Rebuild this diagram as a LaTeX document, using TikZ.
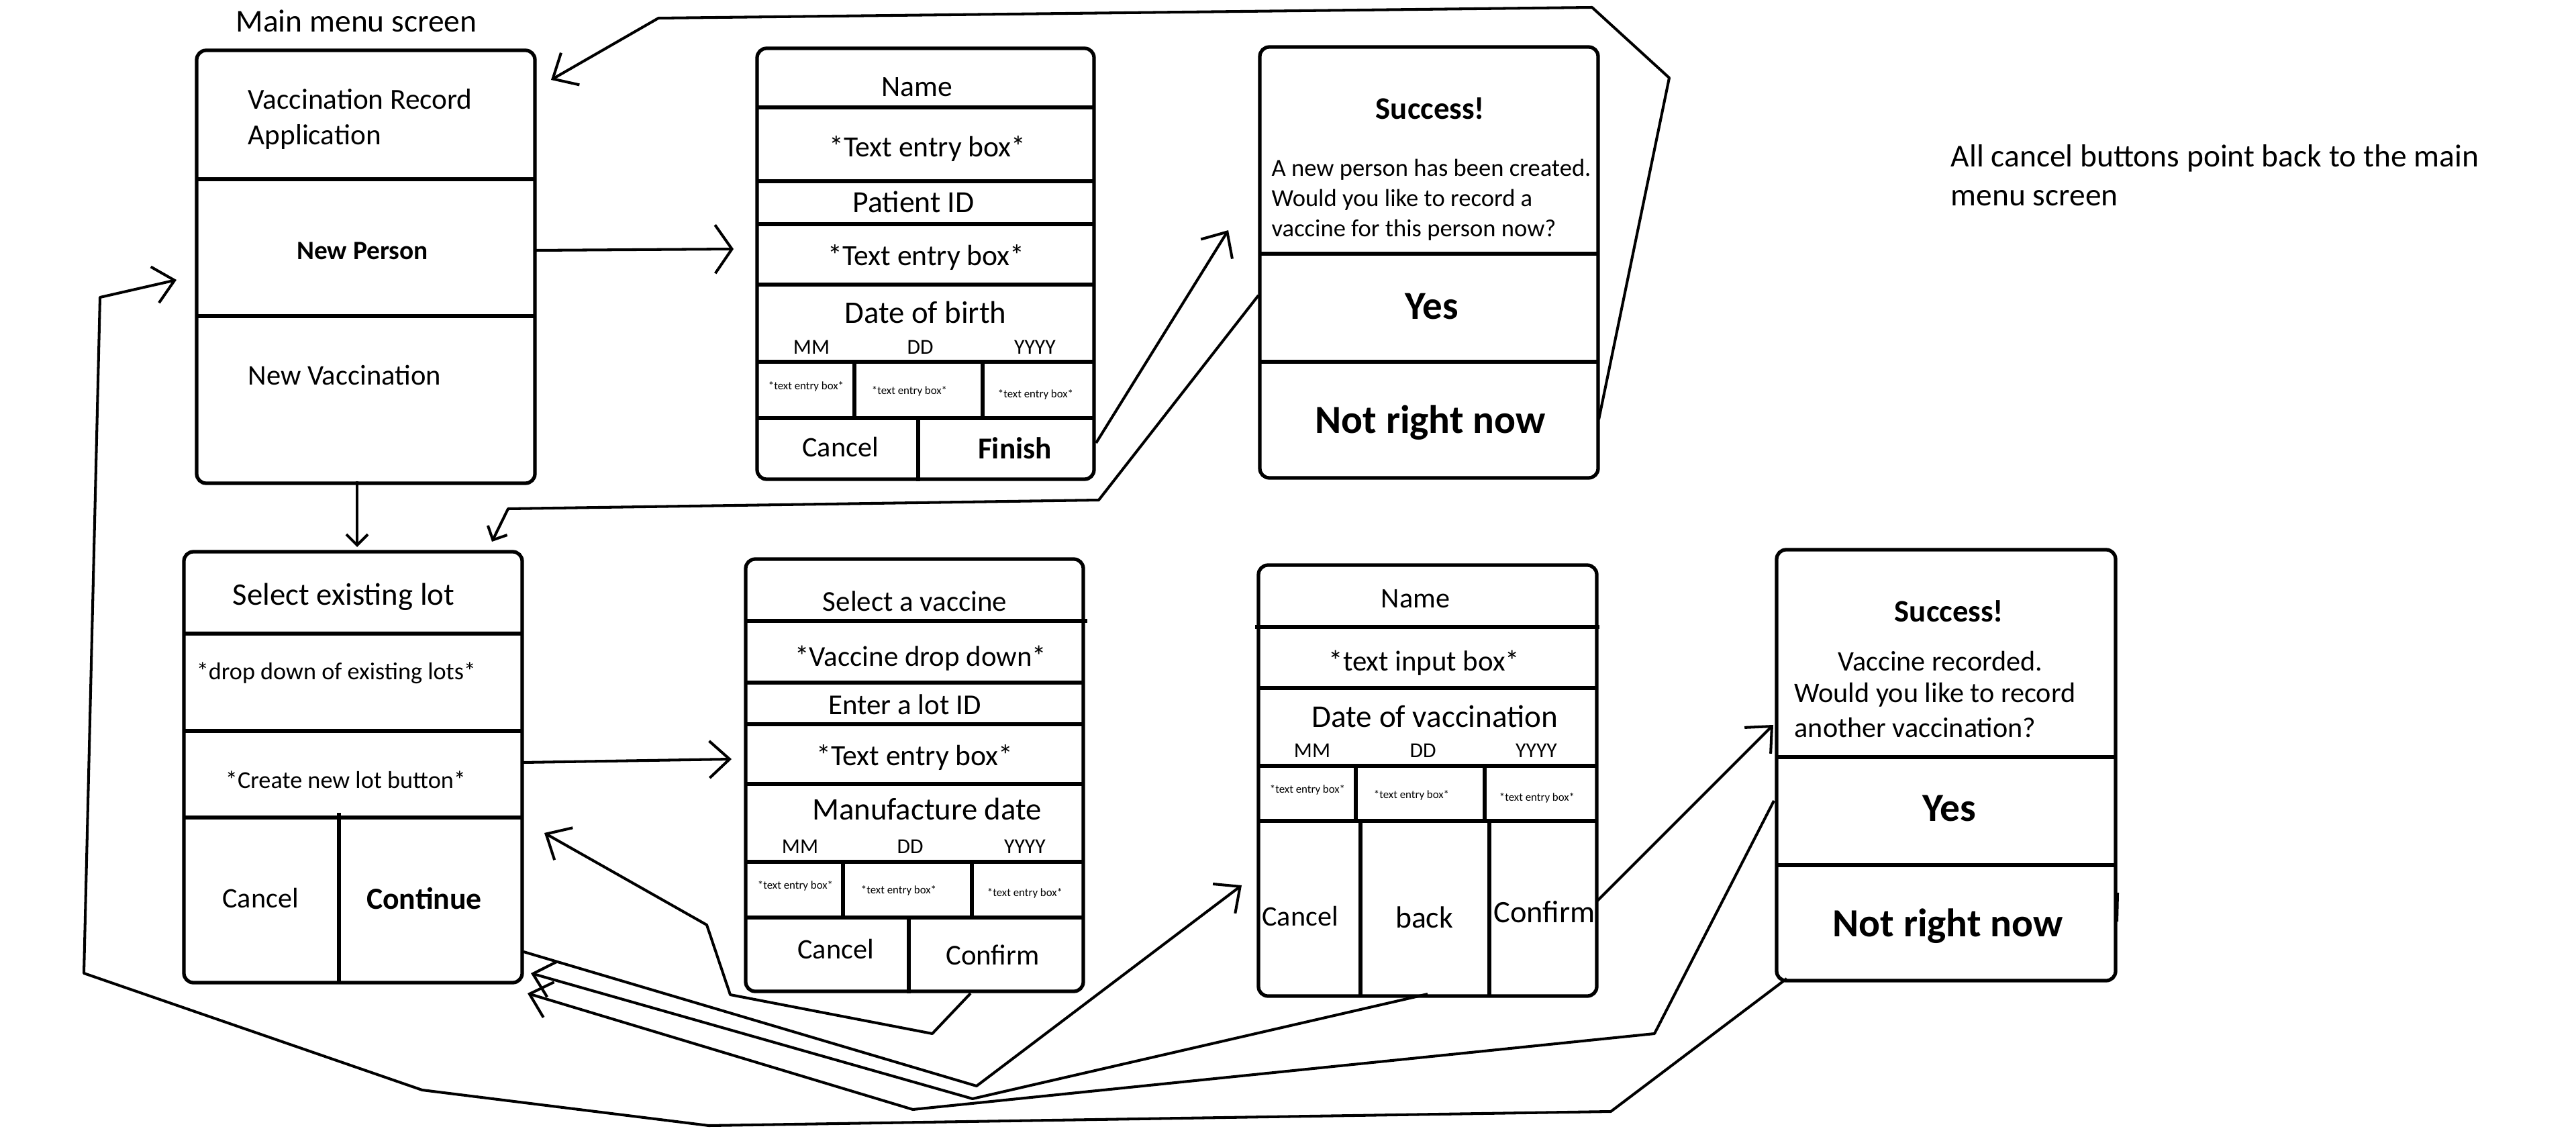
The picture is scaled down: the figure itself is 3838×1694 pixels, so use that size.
\documentclass[tikz,border=0pt]{standalone}
\usepackage{fontspec}
\setmainfont{Carlito}
\usetikzlibrary{arrows.meta,fit}
\newcommand\fsz[1]{\fontsize{#1}{#1}\selectfont}
\begin{document}
\begin{tikzpicture}[x=0.01cm,y=-0.01cm,
  screen/.style={draw, line width=1.5pt, rounded corners=4pt, inner sep=0pt},
  div/.style={line width=1.5pt},
  link/.style={line width=1.15pt, line join=round},
  conn/.style={link, -{Straight Barb[length=0.3cm,width=0.55cm]}},
  connsmall/.style={link, -{Straight Barb[length=0.16cm,width=0.32cm]}},
  connbig/.style={link, -{Straight Barb[length=0.25cm,width=0.72cm]}},
  basetxt/.style={inner sep=0pt, anchor=mid},
  txt/.style={basetxt, yshift=-2pt},
  ltxt/.style={inner sep=0pt, anchor=mid west, yshift=-2pt},
  small/.style={basetxt, font=\fsz{4.8}},
  lbl/.style={basetxt, font=\fsz{9}}]
\useasboundingbox (0,0) rectangle (3838,1694);

% ---------- screens ----------
\node[screen, fit={(293,75) (797,720)}] (M) {};
\node[screen, fit={(1128,72) (1630,714)}] (N) {};
\node[screen, fit={(1877,70) (2381,712)}] (S1) {};
\node[screen, fit={(274,822) (778,1464)}] (L) {};
\node[screen, fit={(1111,833) (1614,1477)}] (V) {};
\node[screen, fit={(1875,842) (2379,1484)}] (D) {};
\node[screen, fit={(2647,819) (3152,1461)}] (S2) {};

% ---------- dividers ----------
% main menu
\draw[div] (293,267) -- (797,267);
\draw[div] (293,471) -- (797,471);
% new person
\foreach \yy in {160,270,334,424,539,623} \draw[div] (1128,\yy) -- (1630,\yy);
\draw[div] (1273,539) -- (1273,626);
\draw[div] (1464,539) -- (1464,626);
\draw[div] (1368,623) -- (1368,717);
% success 1
\draw[div] (1877,378) -- (2381,378);
\draw[div] (1877,539) -- (2381,539);
% select lot
\foreach \yy in {944,1089,1218} \draw[div] (274,\yy) -- (778,\yy);
\draw[div] (505,1211) -- (505,1464);
% vaccine
\draw[div] (1111,925) -- (1620,925);
\foreach \yy in {1017,1079,1168,1284,1367} \draw[div] (1111,\yy) -- (1614,\yy);
\draw[div] (1256,1284) -- (1256,1367);
\draw[div] (1448,1284) -- (1448,1367);
\draw[div] (1354,1367) -- (1354,1480);
% date of vaccination
\draw[div] (1870,934) -- (2383,934);
\foreach \yy in {1025,1141,1223} \draw[div] (1875,\yy) -- (2379,\yy);
\draw[div] (2020,1141) -- (2020,1223);
\draw[div] (2212,1141) -- (2212,1223);
\draw[div] (2027,1223) -- (2027,1484);
\draw[div] (2219,1223) -- (2219,1484);
% success 2
\draw[div] (2647,1128) -- (3152,1128);
\draw[div] (2647,1289) -- (3152,1289);

% ---------- texts ----------
\node[txt, font=\fsz{13.5}] (mtitle) at (531,32) {Main menu screen};
\node[ltxt, font=\fsz{12.3}] (m1a) at (369,147) {Vaccination Record};
\node[ltxt, font=\fsz{12.3}] (m1b) at (369,200) {Application};
\node[txt, font=\bfseries\fsz{11.2}] (m2) at (540,371) {New Person};
\node[ltxt, font=\fsz{12.1}] (m3) at (369,558) {New Vaccination};

\node[txt, font=\fsz{12.4}] (n1) at (1366,128) {Name};
\node[txt, font=\fsz{12.4}] (n2) at (1382,218) {*Text entry box*};
\node[txt, font=\fsz{13}] (n3) at (1361,301) {Patient ID};
\node[txt, font=\fsz{12.4}] (n4) at (1380,380) {*Text entry box*};
\node[txt, font=\fsz{13.3}] (n5) at (1379,466) {Date of birth};
\node[lbl] (n6) at (1209,519) {MM};
\node[lbl] (n7) at (1371,519) {DD};
\node[lbl] (n8) at (1542,519) {YYYY};
\node[small] (n9) at (1201,572) {*text entry box*};
\node[small] (n10) at (1355,579) {*text entry box*};
\node[small] (n11) at (1543,584) {*text entry box*};
\node[txt, font=\fsz{12}] (n12) at (1252,665) {Cancel};
\node[txt, font=\bfseries\fsz{12.9}] (n13) at (1512,668) {Finish};

\node[txt, font=\bfseries\fsz{13.3}] (s1a) at (2131,162) {Success!};
\node[ltxt, font=\fsz{10.4}] (s1b) at (1894,247) {A new person has been created.};
\node[ltxt, font=\fsz{10.4}] (s1c) at (1894,292) {Would you like to record a};
\node[ltxt, font=\fsz{10.4}] (s1d) at (1894,337) {vaccine for this person now?};
\node[txt, font=\bfseries\fsz{16.8}] (s1e) at (2133,460) {Yes};
\node[txt, font=\bfseries\fsz{16.9}] (s1f) at (2131,630) {Not right now};

\node[txt, font=\fsz{13.3}] (l1) at (512,886) {Select existing lot};
\node[txt, font=\fsz{10.3}] (l2) at (501,997) {*drop down of existing lots*};
\node[txt, font=\fsz{10.3}] (l3) at (515,1159) {*Create new lot button*};
\node[txt, font=\fsz{12}] (l4) at (388,1337) {Cancel};
\node[txt, font=\bfseries\fsz{13}] (l5) at (632,1339) {Continue};

\node[basetxt, font=\fsz{12.2}] (v1) at (1363,902) {Select a vaccine};
\node[txt, font=\fsz{12.2}] (v2) at (1372,977) {*Vaccine drop down*};
\node[basetxt, font=\fsz{12.2}] (v3) at (1348,1056) {Enter a lot ID};
\node[txt, font=\fsz{12.4}] (v4) at (1363,1125) {*Text entry box*};
\node[txt, font=\fsz{13.3}] (v5) at (1381,1206) {Manufacture date};
\node[lbl] (v6) at (1192,1263) {MM};
\node[lbl] (v7) at (1356,1263) {DD};
\node[lbl] (v8) at (1527,1263) {YYYY};
\node[small] (v9) at (1185,1316) {*text entry box*};
\node[small] (v10) at (1339,1323) {*text entry box*};
\node[small] (v11) at (1527,1327) {*text entry box*};
\node[txt, font=\fsz{12}] (v12) at (1245,1413) {Cancel};
\node[txt, font=\fsz{12.2}] (v13) at (1479,1422) {Confirm};

\node[txt, font=\fsz{12}] (d1) at (2109,890) {Name};
\node[txt, font=\fsz{12.2}] (d2) at (2122,984) {*text input box*};
\node[txt, font=\fsz{13.4}] (d3) at (2138,1068) {Date of vaccination};
\node[lbl] (d4) at (1955,1120) {MM};
\node[lbl] (d5) at (2120,1120) {DD};
\node[lbl] (d6) at (2289,1120) {YYYY};
\node[small] (d7) at (1948,1173) {*text entry box*};
\node[small] (d8) at (2103,1181) {*text entry box*};
\node[small] (d9) at (2290,1185) {*text entry box*};
\node[txt, font=\fsz{12}] (d10) at (1937,1364) {Cancel};
\node[txt, font=\fsz{13}] (d11) at (2122,1367) {back};
\node[txt, font=\fsz{13.2}] (d12) at (2301,1359) {Confirm};

\node[txt, font=\bfseries\fsz{13.3}] (s2a) at (2904,911) {Success!};
\node[txt, font=\fsz{12}] (s2b) at (2891,984) {Vaccine recorded.};
\node[ltxt, font=\fsz{12}] (s2c) at (2673,1031) {Would you like to record};
\node[ltxt, font=\fsz{12}] (s2d) at (2673,1083) {another vaccination?};
\node[txt, font=\bfseries\fsz{16.9}] (s2e) at (2904,1208) {Yes};
\node[txt, font=\bfseries\fsz{16.9}] (s2f) at (2902,1380) {Not right now};

\node[ltxt, font=\fsz{13.5}] (note1) at (2906,233) {All cancel buttons point back to the main};
\node[ltxt, font=\fsz{13.5}] (note2) at (2906,291) {menu screen};

% ---------- connector points ----------
\coordinate (mnA) at (797,373);   \coordinate (mnB) at (1093,371);
\coordinate (fsA) at (1633,660);  \coordinate (fsB) at (1830,343);
\coordinate (nrA) at (2382,625);  \coordinate (nr1) at (2487,116);
\coordinate (nr2) at (2372,11);   \coordinate (nr3) at (981,27);
\coordinate (nrB) at (821,119);
\coordinate (ysA) at (1875,440);  \coordinate (ys1) at (1637,745);
\coordinate (ys2) at (757,758);   \coordinate (ysB) at (733,807);
\coordinate (mlA) at (532,717);   \coordinate (mlB) at (532,815);
\coordinate (lvA) at (778,1136);  \coordinate (lvB) at (1090,1131);
\coordinate (vlA) at (1446,1480); \coordinate (vl1) at (1389,1540);
\coordinate (vl2) at (1088,1482); \coordinate (vl3) at (1053,1378);
\coordinate (vlB) at (811,1241);
\coordinate (ldA) at (780,1418);  \coordinate (ld1) at (1455,1618);
\coordinate (ldB) at (1850,1319);
\coordinate (blA) at (2127,1481); \coordinate (bl1) at (1449,1637);
\coordinate (blB) at (791,1450);
\coordinate (y2A) at (2643,1193); \coordinate (y21) at (2465,1540);
\coordinate (y22) at (1360,1653); \coordinate (y2B) at (786,1480);
\coordinate (csA) at (2380,1342); \coordinate (csB) at (2642,1080);
\coordinate (nmA) at (2662,1458); \coordinate (nm1) at (2400,1656);
\coordinate (nm2) at (1056,1677); \coordinate (nm3) at (629,1624);
\coordinate (nm4) at (125,1450);  \coordinate (nm5) at (149,443);
\coordinate (nmB) at (263,417);
\coordinate (stA) at (3155,1330); \coordinate (stB) at (3154,1373);

% ---------- connectors ----------
\draw[connbig] (mnA) -- (mnB);
\draw[conn] (fsA) -- (fsB);
\draw[conn] (nrA) -- (nr1) -- (nr2) -- (nr3) -- (nrB);
\draw[connsmall] (ysA) -- (ys1) -- (ys2) -- (ysB);
\draw[connsmall] (mlA) -- (mlB);
\draw[conn] (lvA) -- (lvB);
\draw[conn] (vlA) -- (vl1) -- (vl2) -- (vl3) -- (vlB);
\draw[conn] (ldA) -- (ld1) -- (ldB);
\draw[conn] (blA) -- (bl1) -- (blB);
\draw[conn] (y2A) -- (y21) -- (y22) -- (y2B);
\draw[conn] (csA) -- (csB);
\draw[conn] (nmA) -- (nm1) -- (nm2) -- (nm3) -- (nm4) -- (nm5) -- (nmB);
\draw[link] (stA) -- (stB);
\end{tikzpicture}
\end{document}
